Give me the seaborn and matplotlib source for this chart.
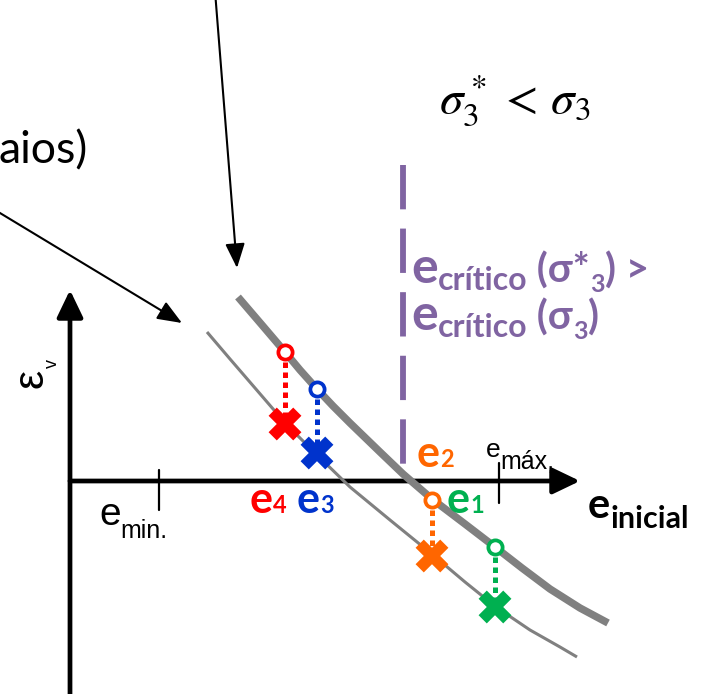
import numpy as np
import pandas as pd
import matplotlib
matplotlib.use("Agg")
import matplotlib.pyplot as plt
import seaborn as sns

# ---- data (void ratio e on x, volumetric strain on y; arbitrary units) ----
# upper (thick) curve
hi_e = [1.68, 1.92, 2.15, 2.30, 2.47, 2.63, 2.80, 3.10, 3.33, 3.62, 3.95,
        4.25, 4.52, 4.80, 5.10, 5.38]
hi_eps = [1.84, 1.56, 1.29, 1.11, 0.92, 0.75, 0.58, 0.29, 0.07, -0.18, -0.43,
          -0.66, -0.87, -1.08, -1.27, -1.42]
# lower (thin) curve
lo_e = [1.37, 1.60, 1.85, 2.16, 2.45, 2.80, 3.20, 3.63, 3.95, 4.26, 4.60,
        4.90, 5.07]
lo_eps = [1.49, 1.22, 0.93, 0.57, 0.28, -0.06, -0.39, -0.74, -1.01, -1.26,
          -1.49, -1.66, -1.76]

# four initial void ratios and their strains on each curve
pt_names = ["e1", "e2", "e3", "e4"]
pt_e = [4.25, 3.62, 2.47, 2.15]
pt_hi = [-0.66, -0.19, 0.92, 1.29]
pt_lo = [-1.26, -0.75, 0.28, 0.57]
pt_colors = ["#00B050", "#FF6600", "#0033CC", "#FF0000"]

e_min, e_max = 0.89, 4.29
e_crit = 3.33

sns.set_theme(style="white")
plt.rcParams["font.family"] = ["Lato", "DejaVu Sans"]

W, H = 702, 694
fig = plt.figure(figsize=(W / 100, H / 100), dpi=100)
ax = fig.add_axes([0, 0, 1, 1])
ax.set_xlim(-0.70, 6.32)
ax.set_ylim(-2.13, 4.81)
ax.axis("off")

gray = "#808080"
purple = "#8064A2"

# curves
sns.lineplot(x=hi_e, y=hi_eps, sort=False, estimator=None, color=gray,
             lw=5.4, ax=ax, solid_capstyle="butt", solid_joinstyle="round",
             zorder=3)
sns.lineplot(x=lo_e, y=lo_eps, sort=False, estimator=None, color=gray,
             lw=2.2, ax=ax, solid_capstyle="butt", solid_joinstyle="round",
             zorder=3)

# axes with arrowheads
arrow_kw = dict(arrowstyle="-|>,head_length=0.75,head_width=0.36",
                color="black", lw=3.4, shrinkA=0, shrinkB=0, mutation_scale=22)
ax.annotate("", xy=(0, 1.91), xytext=(0, -2.2), arrowprops=arrow_kw, zorder=2)
ax.annotate("", xy=(5.10, 0), xytext=(0, 0), arrowprops=arrow_kw, zorder=2)
ax.plot([e_min, e_min], [0.11, -0.29], color="black", lw=1.6, zorder=2)
ax.plot([e_max, e_max], [0.18, -0.22], color="black", lw=1.6, zorder=2)

# critical void ratio line
ax.plot([e_crit, e_crit], [3.16, 0.03], color=purple, lw=4.2,
        dashes=(7.6, 3.3), solid_capstyle="butt", zorder=2)

# pointer arrows
ptr_kw = dict(arrowstyle="-|>,head_length=0.75,head_width=0.3",
              color="black", lw=1.5, shrinkA=0, shrinkB=0, mutation_scale=20)
ax.annotate("", xy=(1.67, 2.13), xytext=(1.45, 4.9), arrowprops=ptr_kw)
ax.annotate("", xy=(1.12, 1.58), xytext=(-0.75, 2.71), arrowprops=ptr_kw)

# dotted connectors between the curves
for x, y0, y1, c in zip(pt_e, pt_hi, pt_lo, pt_colors):
    ax.plot([x, x], [y0, y1], color=c, lw=3.6, ls=(0, (1.1, 0.9)),
            solid_capstyle="butt", zorder=4)

df = pd.DataFrame({"name": pt_names, "e": pt_e, "hi": pt_hi, "lo": pt_lo})
pal = dict(zip(pt_names, pt_colors))
sns.scatterplot(data=df, x="e", y="lo", hue="name", palette=pal, marker="X",
                s=560, linewidth=0, legend=False, ax=ax, zorder=5)
for x, y, c in zip(pt_e, pt_hi, pt_colors):
    ax.scatter([x], [y], s=105, facecolors="white", edgecolors=c,
               linewidths=2.7, zorder=6)


# ---- text helpers (pixel positions, y measured from the top) ----
renderer = fig.canvas.get_renderer()


def run(x, y, pieces):
    """Lay out text pieces left to right on a shared baseline."""
    cx = x
    for txt, size, dy, color, weight, family in pieces:
        t = fig.text(cx / W, 1 - (y + dy) / H, txt, fontsize=size, color=color,
                     fontweight=weight, family=family, va="baseline", ha="left")
        cx += t.get_window_extent(renderer).width


lato = ["Lato", "DejaVu Sans"]
arial = ["Liberation Sans", "DejaVu Sans"]

# colored labels of the four void ratios
lab_pos = {"e4": (250, 513), "e3": (297, 513), "e2": (417, 467), "e1": (447, 513)}
for n, c in zip(pt_names, pt_colors):
    x, y = lab_pos[n]
    run(x, y, [("e", 31, 0, c, "bold", lato), (n[1], 17, 0, c, "bold", lato)])

run(588, 518, [("e", 30, 0, "black", "bold", lato),
               ("inicial", 22, 10, "black", "bold", lato)])

run(99, 525, [("e", 28, 0, "black", "normal", arial),
              ("min.", 18, 13, "black", "normal", arial)])
run(486, 457, [("e", 19, 0, "black", "normal", arial),
               ("máx,", 18, 11, "black", "normal", arial)])

run(411, 283, [("e", 36, 0, purple, "bold", lato),
               ("crítico", 23, 7, purple, "bold", lato),
               (" (σ*", 29, 0, purple, "bold", lato),
               ("3", 18, 9, purple, "bold", lato),
               (") >", 29, 0, purple, "bold", lato)])
run(411, 330, [("e", 36, 0, purple, "bold", lato),
               ("crítico", 23, 7, purple, "bold", lato),
               (" (σ", 29, 0, purple, "bold", lato),
               ("3", 18, 9, purple, "bold", lato),
               (")", 29, 0, purple, "bold", lato)])

fig.text(515 / W, 1 - 100 / H, r"$\sigma_3^*\, <\, \sigma_3$", fontsize=34,
         math_fontfamily="stix", ha="center", va="center", color="black")

fig.text(88 / W, 1 - 163 / H, "aios)", fontsize=32, family=lato,
         ha="right", va="baseline", color="black")

# strain axis label
fig.text(31 / W, 1 - 378 / H, "ε", fontsize=31, family=arial, rotation=90,
         ha="center", va="center", color="black")
fig.text(52 / W, 1 - 363 / H, "v", fontsize=13, family=arial, rotation=90,
         ha="center", va="center", color="black")

fig.savefig("out.png", dpi=100, facecolor="white")
